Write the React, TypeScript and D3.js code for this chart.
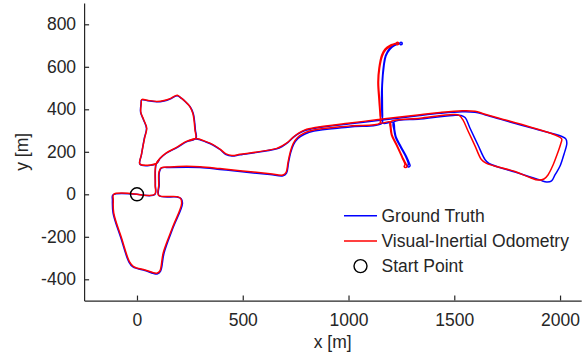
import { useEffect, useRef } from 'react'
import * as d3 from 'd3'

type Pt = [number, number]

// trajectory in metres (x east, y north)
const groundTruth: Pt[] = [
  [0, 0], [-114, -3], [-116, -27], [-113, -88], [-76, -206], [-38, -319], [-19, -342], [38, -359], [95, -375],
  [111, -363], [128, -276], [170, -159], [215, -43], [208, -20], [189, -13], [104, -6],
  [105, 44], [106, 105], [116, 124],
  [156, 126], [298, 126], [392, 117], [487, 107], [629, 93], [690, 87], [707, 100], [716, 147], [726, 194],
  [740, 234], [761, 263], [794, 284], [837, 298], [1007, 317], [1158, 334],
  [1158, 373], [1156, 444], [1158, 514], [1166, 608], [1175, 653], [1194, 686], [1215, 703], [1239, 710],
  [1248, 716], [1254, 710], [1248, 704], [1241, 708],
  [1217, 700], [1196, 683], [1177, 651], [1168, 606], [1160, 514], [1160, 444], [1161, 373], [1163, 335],
  [1212, 339],
  [1218, 303], [1225, 270], [1248, 225], [1274, 178], [1288, 145], [1291, 134], [1284, 128], [1279, 133], [1283, 142],
  [1271, 176], [1245, 224], [1222, 269], [1215, 303], [1213, 339],
  [1338, 354], [1494, 371], [1532, 371],
  [1551, 361], [1574, 312], [1612, 232], [1645, 164], [1664, 145],
  [1787, 105], [1905, 67], [1937, 58], [1960, 63], [1976, 91],
  [2000, 133], [2019, 190], [2032, 239], [2028, 260], [2009, 272],
  [1858, 314], [1716, 354], [1641, 376], [1598, 386], [1537, 388],
  [1433, 381], [1338, 371], [1149, 348], [1007, 332], [842, 311], [794, 300], [766, 287], [742, 270], [714, 244],
  [686, 225], [661, 214], [487, 186], [449, 180], [421, 187], [392, 211], [359, 232], [326, 246], [279, 260],
  [236, 248], [189, 220], [137, 192], [109, 168], [91, 143],
  [14, 141],
  [21, 185], [35, 265], [45, 310], [31, 350], [17, 387], [19, 425], [22, 444],
  [47, 441], [93, 435], [128, 439], [156, 448], [180, 461], [191, 464], [211, 451],
  [232, 432], [252, 411], [266, 380], [272, 345], [276, 303], [279, 263],
  [236, 248], [189, 220], [137, 192], [109, 168], [91, 143],
  [87, 114], [87, 44], [85, -1], [0, 0],
]

const visualInertial: Pt[] = [
  [0, 0], [-110, 0], [-112, -27], [-110, -88], [-73, -206], [-35, -318], [-16, -340], [38, -356], [93, -371],
  [108, -361], [124, -276], [167, -159], [211, -43], [205, -18], [187, -11], [102, -4],
  [103, 44], [104, 105], [114, 124],
  [156, 129], [298, 130], [392, 121], [487, 111], [629, 97], [690, 91], [705, 103], [714, 150], [724, 196],
  [738, 238], [759, 267], [792, 289], [836, 303], [1007, 322], [1149, 335],
  [1149, 373], [1144, 444], [1139, 528], [1144, 594], [1157, 656], [1173, 684], [1196, 701], [1222, 710],
  [1231, 716], [1237, 710], [1231, 704], [1224, 708],
  [1198, 696], [1175, 679], [1160, 651], [1147, 594], [1142, 528], [1147, 444], [1151, 373], [1153, 336],
  [1196, 341],
  [1201, 312], [1206, 279], [1229, 232], [1258, 169], [1273, 140], [1276, 131], [1269, 126], [1263, 131], [1267, 140],
  [1255, 169], [1226, 232], [1203, 279], [1198, 312], [1198, 341],
  [1338, 358], [1496, 376], [1522, 373],
  [1541, 350], [1565, 298], [1598, 228], [1628, 164], [1650, 147],
  [1787, 107], [1858, 79], [1896, 67], [1924, 72], [1943, 91],
  [1967, 138], [1986, 187], [2003, 237], [2008, 260], [1991, 273],
  [1858, 317], [1716, 357], [1641, 378], [1598, 391], [1537, 393],
  [1433, 385], [1338, 374], [1149, 353], [1007, 335], [842, 314], [794, 303], [766, 289], [742, 272], [714, 246],
  [686, 228], [661, 216], [487, 188], [449, 183], [421, 190], [392, 213], [359, 234], [326, 248], [279, 263],
  [236, 250], [189, 222], [137, 194], [109, 170], [91, 145],
  [14, 143],
  [21, 187], [36, 265], [46, 311], [32, 350], [18, 387], [20, 425], [23, 446],
  [47, 443], [93, 437], [128, 441], [156, 450], [180, 463], [191, 466], [210, 453],
  [231, 434], [250, 413], [264, 381], [270, 345], [274, 303], [277, 263],
  [236, 250], [189, 222], [137, 194], [109, 170], [91, 145],
  [86, 114], [86, 44], [84, 0], [0, 0],
]

const startPoint: Pt = [0, 0]
const xTicks = [0, 500, 1000, 1500, 2000]
const yTicks = [-400, -200, 0, 200, 400, 600, 800]
const legendLabels = ['Ground Truth', 'Visual-Inertial Odometry', 'Start Point']
const seriesColors = ['#0000ff', '#ff0000']

const W = 586
const H = 356
const axisColor = '#262626'
const font = '"Liberation Sans", Arial, Helvetica, sans-serif'
const fontSize = '17.5px'

export default function App() {
  const ref = useRef<SVGSVGElement>(null)

  useEffect(() => {
    if (!ref.current) return
    const svg = d3.select(ref.current)
    svg.selectAll('*').remove()

    const x = d3.scaleLinear().domain([-250, 2100]).range([84.1, 581.2])
    const y = d3.scaleLinear().domain([-500, 900]).range([300.55, 3.05])

    const line = d3.line<Pt>()
      .x(d => x(d[0]))
      .y(d => y(d[1]))
      .curve(d3.curveCatmullRom.alpha(0.5))

    // trajectories, ground truth under the estimate
    ;[groundTruth, visualInertial].forEach((data, i) => {
      svg.append('path')
        .datum(data)
        .attr('fill', 'none')
        .attr('stroke', seriesColors[i])
        .attr('stroke-width', 1.5)
        .attr('stroke-linejoin', 'round')
        .attr('d', line)
    })

    // start marker
    svg.append('circle')
      .attr('cx', x(startPoint[0]))
      .attr('cy', y(startPoint[1]))
      .attr('r', 6.5)
      .attr('fill', 'none')
      .attr('stroke', '#000')
      .attr('stroke-width', 1.4)

    const styleAxis = (g: d3.Selection<SVGGElement, unknown, null, undefined>) => {
      g.select('.domain').attr('stroke', axisColor).attr('stroke-width', 1.2)
      g.selectAll('.tick line').attr('stroke', axisColor).attr('stroke-width', 1.2)
      g.selectAll('.tick text').attr('fill', axisColor).style('font-size', fontSize).style('font-family', font)
    }

    const plain = (d: d3.NumberValue) => String(d)

    svg.append('g')
      .attr('transform', `translate(0,${y(-500)})`)
      .call(d3.axisBottom(x).tickValues(xTicks).tickFormat(plain).tickSizeInner(-5).tickSizeOuter(0).tickPadding(13.5))
      .call(styleAxis)

    svg.append('g')
      .attr('transform', `translate(${x(-250)},0)`)
      .call(d3.axisLeft(y).tickValues(yTicks).tickFormat(plain).tickSizeInner(-5).tickSizeOuter(0).tickPadding(8))
      .call(styleAxis)

    // axis titles
    svg.append('text')
      .attr('x', (x(-250) + x(2100)) / 2)
      .attr('y', 348)
      .attr('text-anchor', 'middle')
      .attr('fill', axisColor)
      .style('font-size', fontSize)
      .style('font-family', font)
      .text('x [m]')

    svg.append('text')
      .attr('transform', `translate(28,${(y(-500) + y(900)) / 2}) rotate(-90)`)
      .attr('text-anchor', 'middle')
      .attr('fill', axisColor)
      .style('font-size', fontSize)
      .style('font-family', font)
      .text('y [m]')

    // legend, no box
    const lx = 344
    const ly = 215.7
    const rowH = 25.2
    const legend = svg.append('g').attr('transform', `translate(${lx},${ly})`)
    legendLabels.forEach((label, i) => {
      const row = legend.append('g').attr('transform', `translate(0,${i * rowH})`)
      if (i < 2) {
        row.append('line')
          .attr('x1', 0).attr('x2', 33)
          .attr('y1', 0).attr('y2', 0)
          .attr('stroke', seriesColors[i])
          .attr('stroke-width', 1.5)
      } else {
        row.append('circle')
          .attr('cx', 16.5).attr('cy', 0).attr('r', 6.5)
          .attr('fill', 'none')
          .attr('stroke', '#000')
          .attr('stroke-width', 1.4)
      }
      row.append('text')
        .attr('x', 37.5)
        .attr('y', 6.3)
        .attr('fill', axisColor)
        .style('font-size', fontSize)
        .style('font-family', font)
        .text(label)
    })
  }, [])

  return (
    <svg
      ref={ref}
      width={W}
      height={H}
      style={{ position: 'absolute', left: 0, top: 0, background: '#fff' }}
    />
  )
}
